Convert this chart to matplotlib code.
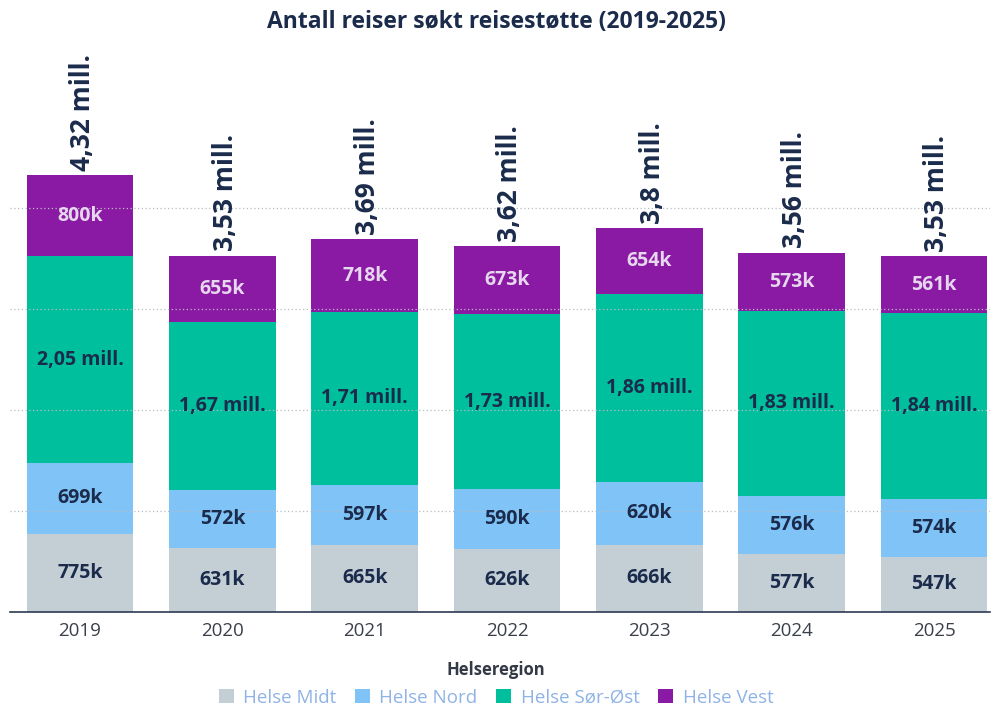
import numpy as np
import matplotlib.pyplot as plt

plt.rcParams['font.family'] = ['Open Sans', 'DejaVu Sans']

years = ['2019', '2020', '2021', '2022', '2023', '2024', '2025']
regions = ['Helse Midt', 'Helse Nord', 'Helse Sør-Øst', 'Helse Vest']
midt = [775, 631, 665, 626, 666, 577, 547]
nord = [699, 572, 597, 590, 620, 576, 574]
sorost = [2050, 1670, 1710, 1730, 1860, 1830, 1840]
vest = [800, 655, 718, 673, 654, 573, 561]
totals = ['4,32', '3,53', '3,69', '3,62', '3,8', '3,56', '3,53']
colors = ['#c3ced5', '#80c4f7', '#00bf9c', '#8a1aa3']

navy = '#1b2b4b'

fig = plt.figure(figsize=(9.92, 7.06), dpi=100)
ax = fig.add_axes([10 / 992, 94 / 706, 980 / 992, 560 / 706])

x = np.arange(len(years))
bottom = np.zeros(len(years))
series = [midt, nord, sorost, vest]
for name, vals, col in zip(regions, series, colors):
    vals = np.array(vals, dtype=float)
    ax.bar(x, vals, 0.75, bottom=bottom, color=col, label=name, zorder=2)
    for xi, v, b in zip(x, vals, bottom):
        if v >= 1000:
            txt = f'{v / 1000:.2f}'.replace('.', ',') + ' mill.'
        else:
            txt = f'{int(v)}k'
        tc = '#e6d6ee' if col == colors[3] else navy
        ax.text(xi, b + v / 2, txt, ha='center', va='center', fontsize=14,
                fontweight='bold', color=tc, zorder=4)
    bottom += vals

for xi, b, t in zip(x, bottom, totals):
    ax.text(xi + 0.02, b + 45, t + ' mill.', rotation=90, ha='center', va='bottom',
            fontsize=19, fontweight='bold', color=navy, zorder=4)

ax.set_xlim(-0.492, 6.393)
ax.set_ylim(0, 560 / 101 * 1000)
ax.set_yticks([1000, 2000, 3000, 4000])
ax.yaxis.grid(True, linestyle=(0, (1, 2)), color='#b8bcc4', linewidth=0.9, zorder=3)
ax.set_axisbelow(False)
ax.tick_params(axis='y', left=False, labelleft=False)
ax.tick_params(axis='x', length=0, labelsize=13.5, labelcolor='#3a3f4a', pad=7)
ax.set_xticks(x)
ax.set_xticklabels(years)
for s in ['top', 'right', 'left']:
    ax.spines[s].set_visible(False)
ax.spines['bottom'].set_color('#2e3a52')
ax.spines['bottom'].set_linewidth(1.2)
ax.spines['bottom'].set_zorder(5)

fig.text(0.5, 1 - 22 / 706, 'Antall reiser søkt reisestøtte (2019-2025)', ha='center',
         va='center', fontsize=16.5, fontweight='bold', color=navy)

leg = fig.legend(loc='center', bbox_to_anchor=(0.5, 1 - 684 / 706), ncol=4, frameon=False,
                 title='Helseregion', fontsize=13.5, handlelength=0.8, handleheight=0.8,
                 handletextpad=0.5, columnspacing=1.0, borderaxespad=0)
leg.get_title().set_fontweight('bold')
leg.get_title().set_color('#333a45')
leg.get_title().set_fontsize(12)
for t in leg.get_texts():
    t.set_color('#8fb3e6')

fig.savefig('out.png', dpi=100)
